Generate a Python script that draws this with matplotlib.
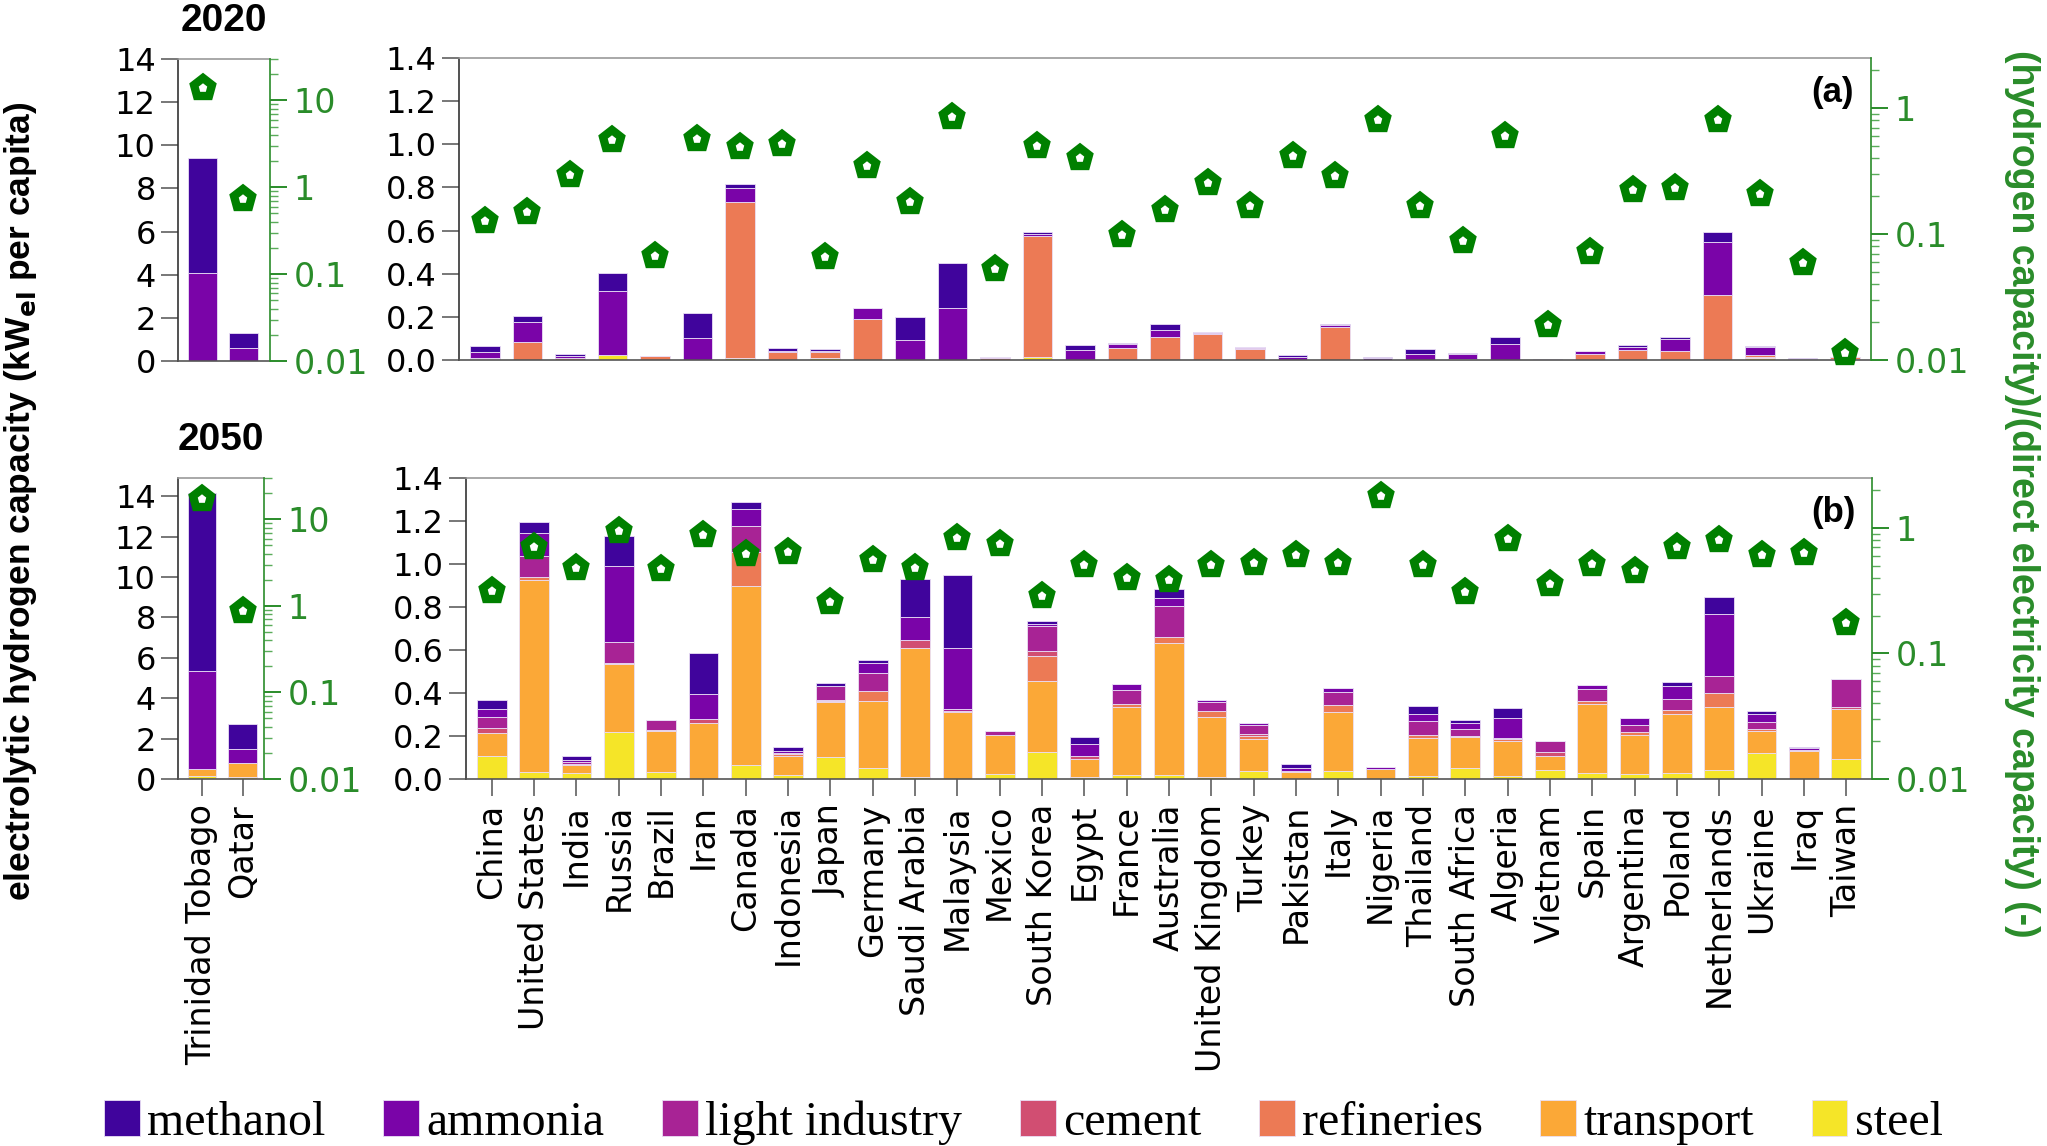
import numpy as np
import matplotlib
matplotlib.use("Agg")
from matplotlib import pyplot as plt
from matplotlib.patches import Patch
from matplotlib.ticker import FixedLocator, FuncFormatter, LogLocator, NullFormatter

countries = ["China", "United States", "India", "Russia", "Brazil", "Iran", "Canada",
             "Indonesia", "Japan", "Germany", "Saudi Arabia", "Malaysia", "Mexico",
             "South Korea", "Egypt", "France", "Australia", "United Kingdom", "Turkey",
             "Pakistan", "Italy", "Nigeria", "Thailand", "South Africa", "Algeria",
             "Vietnam", "Spain", "Argentina", "Poland", "Netherlands", "Ukraine", "Iraq",
             "Taiwan"]
small_countries = ["Trinidad Tobago", "Qatar"]

# stacking order, bottom to top
sectors = ["steel", "transport", "refineries", "cement", "light industry", "ammonia", "methanol"]
colors = {"steel": "#f5e528", "transport": "#fba837", "refineries": "#ec7a55",
          "cement": "#d14e72", "light industry": "#a82395", "ammonia": "#7a04a8",
          "methanol": "#40049c"}

# ---- 2020, kW_el per capita
steel_2020 = [.005, 0, 0, .022, 0, 0, .008, 0, .008, 0, 0, 0, 0, .014, 0, 0, 0, 0, 0, 0, 0,
              0, 0, .002, 0, 0, 0, 0, 0, 0, .008, 0, 0]
transport_2020 = [0, 0, 0, 0, 0, 0, 0, 0, 0, 0, 0, 0, 0, 0, 0, 0, 0, 0, 0, 0, 0, 0, 0, 0,
                  0, 0, 0, 0, 0, 0, .004, 0, .004]
refineries_2020 = [.006, .084, .011, 0, .017, 0, .724, .037, .029, .192, 0, 0, .010, .561,
                   0, .054, .107, .121, .051, 0, .152, 0, 0, .002, 0, .003, .029, .048,
                   .043, .303, .012, 0, .008]
cement_2020 = [0] * 33
light_2020 = [0, 0, 0, 0, .002, 0, 0, 0, 0, 0, 0, 0, .002, 0, 0, 0, 0, .003, .004, 0, 0, 0,
              0, 0, 0, .002, 0, 0, 0, 0, 0, 0, 0]
ammonia_2020 = [.027, .094, .006, .300, 0, .102, .066, .006, .005, .048, .093, .241, .002,
                .010, .046, .020, .032, .006, .005, .015, .011, .008, .028, .022, .074, 0,
                .012, .014, .053, .244, .036, .005, 0]
methanol_2020 = [.028, .028, .012, .083, 0, .115, .020, .011, .009, .003, .105, .208, 0,
                 .007, .022, .003, .027, 0, 0, .008, .003, .004, .022, .008, .031, 0, .001,
                 .006, .009, .045, .005, .003, 0]
ratio_2020 = [0.126, 0.151, 0.296, 0.554, 0.0675, 0.571, 0.490, 0.521, 0.0659, 0.349, 0.180,
              0.849, 0.0526, 0.496, 0.401, 0.0985, 0.156, 0.254, 0.168, 0.413, 0.290, 0.799,
              0.166, 0.0883, 0.60, 0.019, 0.0726, 0.222, 0.233, 0.798, 0.207, 0.0593, 0.0113]

# ---- 2050
steel_2050 = [.109, .033, .028, .219, .034, 0, .067, .019, .104, .053, .008, 0, .023, .127,
              .011, .019, .019, .009, .036, 0, .037, 0, .014, .050, .014, .042, .026, .022,
              .026, .042, .121, 0, .092]
transport_2050 = [.104, .891, .035, .317, .191, .262, .833, .090, .253, .312, .602, .312,
                  .180, .331, .082, .318, .615, .281, .152, .034, .275, .045, .177, .147,
                  .161, .065, .323, .183, .276, .295, .104, .130, .233]
refineries_2050 = [0, .017, .002, .003, .002, 0, .158, .005, .006, .043, 0, 0, 0, .115, 0,
                   .012, .026, .026, .013, .005, .034, 0, .012, .005, .012, 0, .014, .012,
                   .019, .065, .006, .005, 0]
cement_2050 = [.026, 0, .003, 0, .003, .016, 0, .006, .005, 0, .036, .006, .003, .022, .014,
               0, 0, 0, .010, 0, 0, 0, 0, 0, 0, .019, 0, 0, 0, 0, 0, 0, .009]
light_2050 = [.050, .096, .010, .096, .045, 0, .121, 0, .065, .085, 0, .006, .019, .118, 0,
              .065, .143, .042, .040, 0, .059, 0, .067, .031, .005, .053, .056, .036, .053,
              .079, .034, 0, .130]
ammonia_2050 = [.037, .109, .011, .357, 0, .118, .076, .011, 0, .048, .109, .286, 0, .010,
                .056, .028, .037, .009, .008, .011, .017, .012, .033, .029, .092, 0, .016,
                .029, .059, .287, .037, .007, 0]
methanol_2050 = [.042, .050, .017, .138, 0, .188, .034, .017, .014, .012, .177, .341, 0,
                 .012, .031, 0, .045, 0, 0, .020, 0, 0, .037, .012, .047, 0, 0, 0, .019,
                 .079, .012, .007, 0]
ratio_2050 = [0.313, 0.701, 0.477, 0.94, 0.471, 0.874, 0.624, 0.640, 0.258, 0.559, 0.477,
              0.832, 0.750, 0.285, 0.510, 0.399, 0.387, 0.510, 0.526, 0.605, 0.526, 1.81,
              0.51, 0.309, 0.822, 0.357, 0.516, 0.451, 0.701, 0.802, 0.605, 0.632, 0.175]

# ---- Trinidad Tobago and Qatar
small_2020 = {"steel": [0, 0], "transport": [0, 0], "refineries": [0, 0], "cement": [0, 0],
              "light industry": [0, 0], "ammonia": [4.08, 0.60], "methanol": [5.31, 0.71]}
small_ratio_2020 = [13.9, 0.734]
small_2050 = {"steel": [0.16, 0.11], "transport": [0.33, 0.66], "refineries": [0, 0],
              "cement": [0, 0], "light industry": [0, 0], "ammonia": [4.87, 0.73],
              "methanol": [8.82, 1.20]}
small_ratio_2050 = [17.1, 0.861]

main_2020 = dict(zip(sectors, [steel_2020, transport_2020, refineries_2020, cement_2020,
                               light_2020, ammonia_2020, methanol_2020]))
main_2050 = dict(zip(sectors, [steel_2050, transport_2050, refineries_2050, cement_2050,
                               light_2050, ammonia_2050, methanol_2050]))

GREEN_TXT = "#2a8c2a"
GREEN_MK = "#008000"
plt.rcParams["font.family"] = "DejaVu Sans"

fig = plt.figure(figsize=(20.47, 11.46), dpi=100)
W, H = 2047, 1146


def box(x0, y0, x1, y1):
    return [x0 / W, 1 - y1 / H, (x1 - x0) / W, (y1 - y0) / H]


def stack(ax, data, n):
    x = np.arange(n)
    bottom = np.zeros(n)
    for s in sectors:
        v = np.array(data[s], dtype=float)
        ax.bar(x, v, 0.7, bottom=bottom, color=colors[s], edgecolor="#eadff5",
               linewidth=0.6, zorder=2)
        bottom += v


def style_left(ax, ymax, step, fmt, show_x, labels):
    ax.set_ylim(0, ymax)
    ax.yaxis.set_major_locator(FixedLocator(np.arange(0, ymax + 1e-9, step)))
    ax.yaxis.set_major_formatter(FuncFormatter(lambda v, p: fmt % v))
    ax.tick_params(axis="y", direction="out", length=12, width=1.4, colors="#777777",
                   labelcolor="black", labelsize=23, pad=4)
    ax.spines["right"].set_visible(False)
    ax.spines["top"].set_color("#999999")
    ax.spines["left"].set_color("#333333")
    ax.spines["bottom"].set_color("#555555")
    for sp in ax.spines.values():
        sp.set_linewidth(1.2)
    ax.set_xticks(np.arange(len(labels)))
    if show_x:
        ax.set_xticklabels(labels, rotation=90, fontsize=24)
        ax.tick_params(axis="x", direction="out", length=12, width=1.4, colors="#777777",
                       labelcolor="black", pad=6)
    else:
        ax.set_xticklabels([])
        ax.tick_params(axis="x", length=0)


def style_right(ax, ratio, top):
    ax2 = ax.twinx()
    ax2.plot(np.arange(len(ratio)), ratio, linestyle="none", marker="p", markersize=14,
             markerfacecolor="white", markeredgecolor=GREEN_MK, markeredgewidth=6,
             zorder=5, clip_on=False)
    ax2.set_yscale("log")
    ax2.set_ylim(0.01, top)
    ax2.yaxis.set_major_locator(LogLocator(base=10))
    ax2.yaxis.set_minor_locator(LogLocator(base=10, subs=np.arange(2, 10)))
    ax2.yaxis.set_major_formatter(FuncFormatter(lambda v, p: "%g" % v))
    ax2.yaxis.set_minor_formatter(NullFormatter())
    ax2.tick_params(axis="y", which="major", direction="out", length=12, width=1.4,
                    colors=GREEN_TXT, labelsize=24, pad=5)
    ax2.tick_params(axis="y", which="minor", direction="out", length=6, width=1.0,
                    colors="#5aac5a")
    for k in ["left", "top", "bottom"]:
        ax2.spines[k].set_visible(False)
    ax2.spines["right"].set_color(GREEN_TXT)
    ax2.spines["right"].set_linewidth(1.2)
    return ax2


# top row (2020)
ax_s20 = fig.add_axes(box(178, 59, 270, 361))
stack(ax_s20, small_2020, 2)
ax_s20.set_xlim(-0.6, 1.65)
style_left(ax_s20, 14, 2, "%d", False, small_countries)
style_right(ax_s20, small_ratio_2020, 30)
ax_s20.set_title("2020", fontsize=28, fontweight="bold", family="Liberation Sans", pad=20)

ax_m20 = fig.add_axes(box(459, 58, 1871, 360))
stack(ax_m20, main_2020, len(countries))
ax_m20.set_xlim(-0.61, len(countries) - 0.39)
style_left(ax_m20, 1.4, 0.2, "%.1f", False, countries)
style_right(ax_m20, ratio_2020, 2.5)
ax_m20.text(0.988, 0.94, "(a)", transform=ax_m20.transAxes, ha="right", va="top",
            fontsize=25, fontweight="bold", family="Liberation Sans", zorder=10)

# bottom row (2050)
ax_s50 = fig.add_axes(box(178, 478, 264, 779))
stack(ax_s50, small_2050, 2)
ax_s50.set_xlim(-0.59, 1.53)
style_left(ax_s50, 14.9, 2, "%d", True, small_countries)
style_right(ax_s50, small_ratio_2050, 30)
ax_s50.set_title("2050", fontsize=28, fontweight="bold", family="Liberation Sans", pad=20)

ax_m50 = fig.add_axes(box(466, 478, 1872, 779))
stack(ax_m50, main_2050, len(countries))
ax_m50.set_xlim(-0.61, len(countries) - 0.39)
style_left(ax_m50, 1.4, 0.2, "%.1f", True, countries)
style_right(ax_m50, ratio_2050, 2.5)
ax_m50.text(0.988, 0.94, "(b)", transform=ax_m50.transAxes, ha="right", va="top",
            fontsize=25, fontweight="bold", family="Liberation Sans", zorder=10)

# axis titles
fig.text(0.010, 0.563, r"electrolytic hydrogen capacity (kW$_{\mathbf{el}}$ per capita)",
         rotation=90, ha="center", va="center", fontsize=25.5, fontweight="bold",
         family="Liberation Sans")
fig.text(0.988, 0.569, "(hydrogen capacity)/(direct electricity capacity) (-)",
         rotation=270, ha="center", va="center", fontsize=27, fontweight="bold",
         color=GREEN_TXT, family="Liberation Sans")

# legend
handles = [Patch(facecolor=colors[s], edgecolor="#eadff5", linewidth=0.6, label=s)
           for s in sectors[::-1]]
fig.legend(handles=handles, loc="lower center", bbox_to_anchor=(0.5, -0.024), ncol=7,
           frameon=False, prop={"family": "Liberation Serif", "size": 34.5},
           handlelength=0.75, handleheight=0.75, handletextpad=0.15, columnspacing=1.2,
           borderaxespad=0.2)

fig.savefig("out.png", dpi=100)
